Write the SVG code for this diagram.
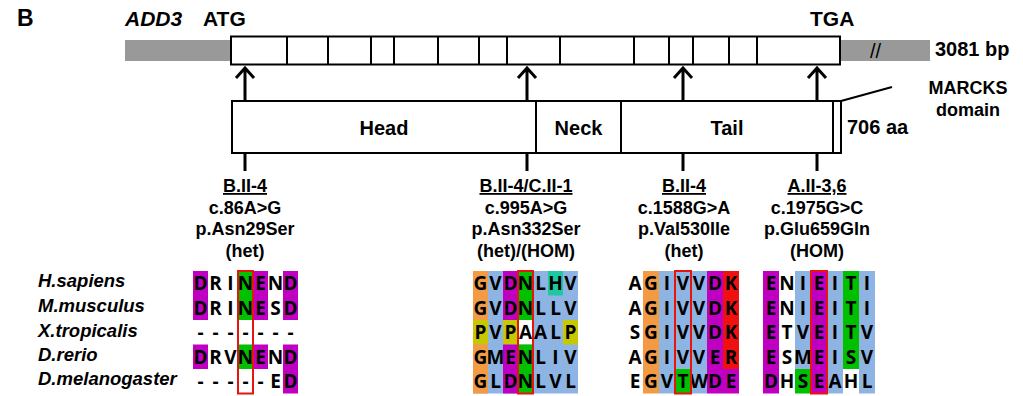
<svg xmlns="http://www.w3.org/2000/svg" width="1023" height="396" viewBox="0 0 1023 396">
<style>
.t{font-family:"Liberation Sans",Arial,sans-serif;font-weight:bold;fill:#000}
.sp{font-family:"Liberation Sans",Arial,sans-serif;font-weight:bold;font-style:italic;font-size:18.5px}
.aa{font-family:"Open Sans","Liberation Sans",sans-serif;font-weight:bold;font-size:19px;text-anchor:middle}
.box{fill:#fff;stroke:#000;stroke-width:2}
.grey{fill:#999999}
.con{stroke:#000;stroke-width:3;fill:none}
.rb{fill:none;stroke:#E8150E;stroke-width:2}
.pu{fill:#C000C0}.gr{fill:#00C000}.or{fill:#F39A45}.bl{fill:#8DB4E2}.ye{fill:#C8C800}.te{fill:#1FC8A0}.re{fill:#F01010}.wh{fill:#fff}
.lab{font-size:18px;text-anchor:middle}
</style>
<g id="title">
<text class="t" x="17" y="26" font-size="23">B</text>
<text class="t" x="125" y="26" font-size="21" font-style="italic">ADD3</text>
</g>
<g id="gene">
<rect class="grey" x="125" y="40" width="106" height="21"/>
<rect class="grey" x="840" y="40" width="90" height="21"/>
<text x="870" y="58" font-family="Liberation Sans,Arial,sans-serif" font-size="20" fill="#000">//</text>
<rect class="box" x="231" y="36.5" width="609" height="28"/>
<path d="M287 36.5V64.5M328 36.5V64.5M371 36.5V64.5M394 36.5V64.5M438 36.5V64.5M479 36.5V64.5M507 36.5V64.5M560 36.5V64.5M634 36.5V64.5M669 36.5V64.5M693 36.5V64.5M729 36.5V64.5M757 36.5V64.5" stroke="#000" stroke-width="2" fill="none"/>
<text class="t" x="203" y="26" font-size="21">ATG</text>
<text class="t" x="810" y="26" font-size="21">TGA</text>
<text class="t" x="935" y="56" font-size="20">3081 bp</text>
</g>
<g id="protein">
<rect class="box" x="232" y="101" width="609" height="52"/>
<path d="M536 101V153M621 101V153M833 101V153" stroke="#000" stroke-width="2"/>
<text class="t" x="384" y="135" font-size="20" text-anchor="middle">Head</text>
<text class="t" x="578.5" y="135" font-size="20" text-anchor="middle">Neck</text>
<text class="t" x="727" y="135" font-size="20" text-anchor="middle">Tail</text>
<text class="t" x="847" y="134" font-size="20">706 aa</text>
<text class="t" x="968" y="94" font-size="18" text-anchor="middle">MARCKS</text>
<text class="t" x="968" y="116" font-size="18" text-anchor="middle">domain</text>
</g>
<g id="connectors">
<path class="con" d="M245 68V100M236 78L245 68L254 78M245 153V171"/>
<path class="con" d="M527 68V100M518 78L527 68L536 78M527 153V171"/>
<path class="con" d="M683 68V100M674 78L683 68L692 78M683 153V171"/>
<path class="con" d="M817 68V100M808 78L817 68L826 78M817 153V171"/>
<path d="M841 101L892 87" stroke="#000" stroke-width="2"/>
</g>
<g id="var1" class="t lab">
<text x="245" y="192" text-decoration="underline">B.II-4</text>
<text x="245" y="213.5">c.86A&gt;G</text>
<text x="245" y="235">p.Asn29Ser</text>
<text x="245" y="256.5">(het)</text>
</g>
<g id="var2" class="t lab">
<text x="526" y="192" text-decoration="underline">B.II-4/C.II-1</text>
<text x="526" y="213.5">c.995A&gt;G</text>
<text x="526" y="235">p.Asn332Ser</text>
<text x="526" y="256.5">(het)/(HOM)</text>
</g>
<g id="var3" class="t lab">
<text x="684" y="192" text-decoration="underline">B.II-4</text>
<text x="684" y="213.5">c.1588G&gt;A</text>
<text x="684" y="235">p.Val530Ile</text>
<text x="684" y="256.5">(het)</text>
</g>
<g id="var4" class="t lab">
<text x="817" y="192" text-decoration="underline">A.II-3,6</text>
<text x="817" y="213.5">c.1975G&gt;C</text>
<text x="817" y="235">p.Glu659Gln</text>
<text x="817" y="256.5">(HOM)</text>
</g>
<g id="species" class="sp">
<text x="38" y="287">H.sapiens</text>
<text x="38" y="312">M.musculus</text>
<text x="38" y="337">X.tropicalis</text>
<text x="38" y="361">D.rerio</text>
<text x="38" y="385">D.melanogaster</text>
</g>
<g id="aln1">
<rect class="pu" x="193" y="271" width="15" height="49"/>
<rect class="pu" x="193" y="344.5" width="15" height="24.5"/>
<rect class="gr" x="238" y="271" width="15" height="49"/>
<rect class="gr" x="238" y="344.5" width="15" height="24.5"/>
<rect class="pu" x="253" y="271" width="15" height="49"/>
<rect class="pu" x="253" y="344.5" width="15" height="24.5"/>
<rect class="pu" x="283" y="271" width="15" height="49"/>
<rect class="pu" x="283" y="344.5" width="15" height="49"/>
<g class="aa">
<text x="200.5 215.5 230.5 245.5 260.5 275.5 290.5" y="290">DRINEND</text>
<text x="200.5 215.5 230.5 245.5 260.5 275.5 290.5" y="314.5">DRINESD</text>
<text x="200.5 215.5 230.5 245.5 260.5 275.5 290.5" y="339">-------</text>
<text x="200.5 215.5 230.5 245.5 260.5 275.5 290.5" y="363.5">DRVNEND</text>
<text x="200.5 215.5 230.5 245.5 260.5 275.5 290.5" y="388">-----ED</text>
</g>
<rect class="rb" x="238" y="271" width="15" height="122.5"/>
</g>
<g id="aln2">
<rect class="bl" x="473" y="271" width="105" height="122.5"/>
<rect class="or" x="473" y="271" width="15" height="49"/>
<rect class="ye" x="473" y="320" width="15" height="24.5"/>
<rect class="or" x="473" y="344.5" width="15" height="49"/>
<rect class="pu" x="503" y="271" width="15" height="49"/>
<rect class="ye" x="503" y="320" width="15" height="24.5"/>
<rect class="pu" x="503" y="344.5" width="15" height="49"/>
<rect class="gr" x="518" y="271" width="15" height="49"/>
<rect class="wh" x="518" y="320" width="15" height="24.5"/>
<rect class="gr" x="518" y="344.5" width="15" height="49"/>
<rect class="te" x="548" y="271" width="15" height="24.5"/>
<rect class="ye" x="563" y="320" width="15" height="24.5"/>
<g class="aa">
<text x="480.5 495.5 510.5 525.5 540.5 555.5 570.5" y="290">GVDNLHV</text>
<text x="480.5 495.5 510.5 525.5 540.5 555.5 570.5" y="314.5">GVDNLLV</text>
<text x="480.5 495.5 510.5 525.5 540.5 555.5 570.5" y="339">PVPAALP</text>
<text x="480.5 495.5 510.5 525.5 540.5 555.5 570.5" y="363.5">GMENLIV</text>
<text x="480.5 495.5 510.5 525.5 540.5 555.5 570.5" y="388">GLDNLVL</text>
</g>
<rect class="rb" x="518" y="271" width="15" height="122.5"/>
</g>
<g id="aln3">
<rect class="or" x="643" y="271" width="16" height="122.5"/>
<rect class="bl" x="659" y="271" width="48" height="122.5"/>
<rect class="gr" x="675" y="369" width="16" height="24.5"/>
<rect class="pu" x="707" y="271" width="16" height="122.5"/>
<rect class="re" x="723" y="271" width="16" height="98"/>
<rect class="pu" x="723" y="369" width="16" height="24.5"/>
<g class="aa">
<text x="635 651 667 683 699 715 731" y="290">AGIVVDK</text>
<text x="635 651 667 683 699 715 731" y="314.5">AGIVVDK</text>
<text x="635 651 667 683 699 715 731" y="339">SGIVVDK</text>
<text x="635 651 667 683 699 715 731" y="363.5">AGIVVER</text>
<text x="635 651 667 683 699 715 731" y="388">EGVTWDE</text>
</g>
<rect class="rb" x="675" y="271" width="16" height="122.5"/>
</g>
<g id="aln4">
<rect class="pu" x="763" y="271" width="16" height="122.5"/>
<rect class="bl" x="795" y="271" width="16" height="98"/>
<rect class="gr" x="795" y="369" width="16" height="24.5"/>
<rect class="pu" x="811" y="271" width="16" height="122.5"/>
<rect class="bl" x="827" y="271" width="16" height="122.5"/>
<rect class="gr" x="843" y="271" width="16" height="98"/>
<rect class="bl" x="859" y="271" width="16" height="122.5"/>
<g class="aa">
<text x="771 787 803 819 835 851 867" y="290">ENIEITI</text>
<text x="771 787 803 819 835 851 867" y="314.5">ENIEITI</text>
<text x="771 787 803 819 835 851 867" y="339">ETVEITV</text>
<text x="771 787 803 819 835 851 867" y="363.5">ESMEISV</text>
<text x="771 787 803 819 835 851 867" y="388">DHSEAHL</text>
</g>
<rect class="rb" x="811" y="271" width="16" height="122.5"/>
</g>
</svg>
